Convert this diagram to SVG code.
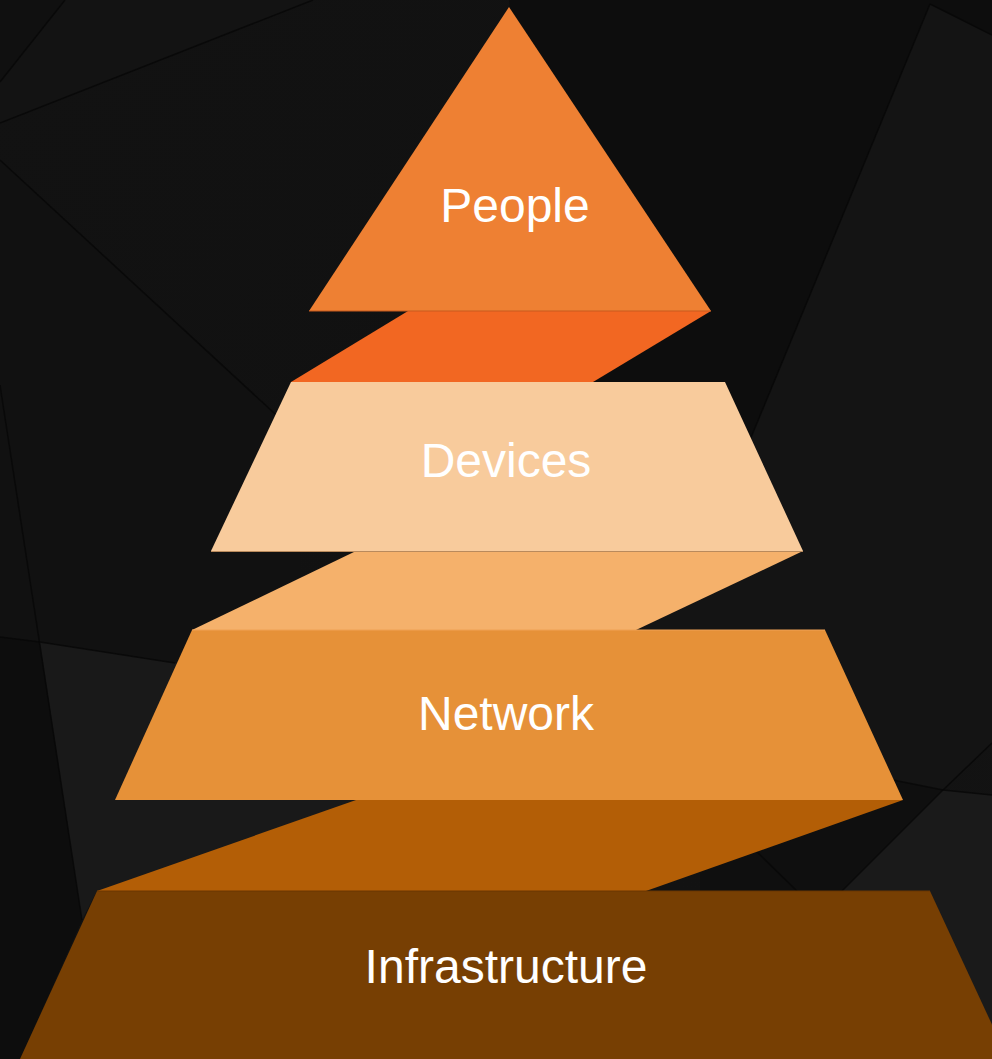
<svg xmlns="http://www.w3.org/2000/svg" width="992" height="1059" viewBox="0 0 992 1059">
<style>
.bgline{stroke:#080808;stroke-width:1.5;fill:none;opacity:0.8}
.lbl{font-family:"Liberation Sans",Arial,sans-serif;font-size:48px;fill:#ffffff;text-anchor:middle}
.edge{stroke-width:1;fill:none}
</style>
<defs>
<linearGradient id="bgGrad" x1="0" y1="0" x2="1" y2="1">
<stop offset="0" stop-color="#121212"/>
<stop offset="0.5" stop-color="#111111"/>
<stop offset="1" stop-color="#131313"/>
</linearGradient>
</defs>
<g id="background">
<rect x="0" y="0" width="992" height="1059" fill="url(#bgGrad)"/>
<polygon points="0,0 65,0 0,82" fill="#101010"/>
<polygon points="65,0 313,0 0,123 0,82" fill="#131313"/>
<polygon points="509,0 992,0 992,35 930,4 750,440 560,440" fill="#0d0d0d"/>
<polygon points="930,4 992,35 992,743 943,790 893,780 600,780 600,440 750,440" fill="#141414"/>
<polygon points="700,800 893,780 943,790 842,891 700,891" fill="#0f0f0f"/>
<polygon points="943,790 992,795 992,1059 842,1059 842,891" fill="#1a1a1a"/>
<polygon points="0,385 82,920 20,1059 0,1059" fill="#0d0d0d"/>
<polygon points="0,160 300,437 300,670 175,663 40,642 0,637" fill="#111111"/>
<polygon points="40,642 175,663 400,675 400,891 97,891 82,920" fill="#191919"/>
<line class="bgline" x1="0" y1="82" x2="65" y2="0"/>
<line class="bgline" x1="0" y1="123" x2="313" y2="0"/>
<line class="bgline" x1="0" y1="160" x2="300" y2="437"/>
<line class="bgline" x1="930" y1="4" x2="992" y2="35"/>
<line class="bgline" x1="930" y1="4" x2="750" y2="440"/>
<line class="bgline" x1="0" y1="385" x2="82" y2="920"/>
<polyline class="bgline" points="0,637 40,642 175,663"/>
<polyline class="bgline" points="992,743 943,790 842,891"/>
<line class="bgline" x1="943" y1="790" x2="992" y2="795"/>
<line class="bgline" x1="893" y1="780" x2="943" y2="790"/>
<line class="bgline" x1="757" y1="852" x2="797" y2="891"/>
</g>
<g id="connectors">
<polygon id="conn-people-devices" points="408,311 711,311 593,382 291,382" fill="#F26722"/>
<polygon id="conn-devices-network" points="356,551 803,551 636,630 192,630" fill="#F5B16B"/>
<polygon id="conn-network-infra" points="356,800 903,800 646,891 97,891" fill="#B35E06"/>
</g>
<g id="node-people">
<polygon points="509,7 711,311 309,311" fill="#EE8033"/>
<line class="edge" x1="309" y1="311" x2="711" y2="311" stroke="#C75A1E"/>
<text class="lbl" x="515" y="222">People</text>
</g>
<g id="node-devices">
<polygon points="291,382 725,382 803,551 211,551" fill="#F8CB9C"/>
<line class="edge" x1="211" y1="551.5" x2="803" y2="551.5" stroke="#B98A5C"/>
<text class="lbl" x="506" y="477">Devices</text>
</g>
<g id="node-network">
<polygon points="192,630 825,630 903,800 115,800" fill="#E69138"/>
<line class="edge" x1="192" y1="630" x2="825" y2="630" stroke="#EFA155"/>
<text class="lbl" x="506" y="730">Network</text>
</g>
<g id="node-infrastructure">
<polygon points="97,891 930,891 1008,1059 20,1059" fill="#773F03"/>
<line class="edge" x1="97" y1="891" x2="930" y2="891" stroke="#6A3703"/>
<text class="lbl" x="506" y="983">Infrastructure</text>
</g>
</svg>
